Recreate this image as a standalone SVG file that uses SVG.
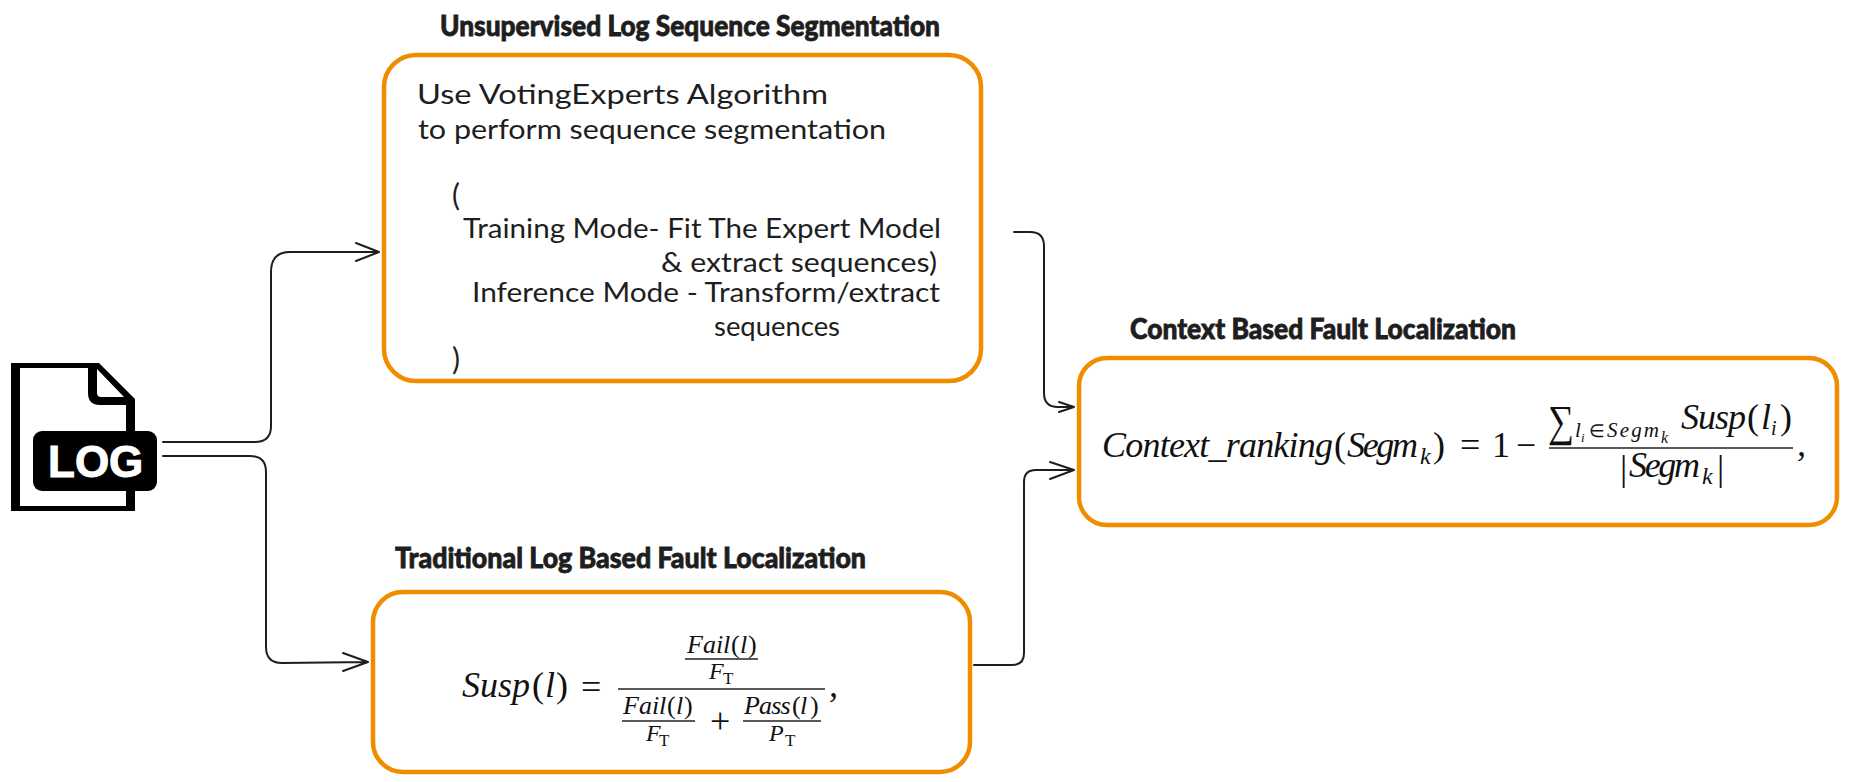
<svg xmlns="http://www.w3.org/2000/svg" width="1866" height="782" viewBox="0 0 1866 782">
<style>
.box{fill:#fff;stroke:#f08c00;stroke-width:4.5}
.title{font-family:"Lato","Roboto",sans-serif;font-weight:900;font-size:29px;fill:#1e1e1e;stroke:#1e1e1e;stroke-width:.8}
.body{font-family:"Lato","Noto Sans",sans-serif;font-size:26px;fill:#1e1e1e}
.paren{font-family:"Lato","Noto Sans",sans-serif;font-size:30px;fill:#1e1e1e}
.math{font-family:"Liberation Serif",serif;font-style:italic;fill:#111}
.rm{font-family:"Liberation Serif",serif;fill:#111}
.up{font-style:normal;font-weight:300}
.conn{fill:none;stroke:#1e1e1e;stroke-width:2;stroke-linecap:round;stroke-linejoin:round}
.rule{stroke:#222;stroke-width:1.3}
.f{font-size:26px}.s{font-size:24px}.t{font-size:17px}.l{font-size:36px}
</style>
<rect width="1866" height="782" fill="#fff"/>
<g id="connectors">
<path class="conn" d="M163 442H255Q271 442 271 426V272Q271 252 290 252H379M356 243L379 252L356 261"/>
<path class="conn" d="M163 456H250Q266 456 266 472V647Q266 663 282 663L368 662M343 653L368 662L343 671"/>
<path class="conn" d="M1014 232H1030Q1044 232 1044 246V393Q1044 407 1058 407H1074M1059 402L1074 407L1059 412"/>
<path class="conn" d="M974 665H1012Q1024 665 1024 653V482Q1024 470 1036 470H1074M1050 462L1074 470L1050 479"/>
</g>
<g id="log-icon">
<path d="M11 363H99L135 399V511H11ZM20 368V506H126V405H100Q88 405 88 393V368ZM97 369V393Q97 397 101 397H124Z" fill="#000" fill-rule="evenodd"/>
<rect x="33" y="431" width="124" height="60" rx="9" fill="#000"/>
<text x="48" y="477" font-family="Liberation Sans,sans-serif" font-weight="700" font-size="44" fill="#fff" stroke="#fff" stroke-width="1">LOG</text>
</g>
<g id="segmentation">
<text class="title" x="440" y="36" textLength="500" lengthAdjust="spacingAndGlyphs">Unsupervised Log Sequence Segmentation</text>
<rect class="box" x="384" y="55" width="597" height="326" rx="32"/>
<text class="body" x="417" y="104" textLength="411" lengthAdjust="spacingAndGlyphs">Use VotingExperts Algorithm</text>
<text class="body" x="418" y="139" textLength="468" lengthAdjust="spacingAndGlyphs">to perform sequence segmentation</text>
<text class="paren" x="452" y="206">(</text>
<text class="body" x="463" y="238" textLength="478" lengthAdjust="spacingAndGlyphs">Training Mode- Fit The Expert Model</text>
<text class="body" x="661" y="272" textLength="276" lengthAdjust="spacingAndGlyphs">&amp; extract sequences)</text>
<text class="body" x="472" y="302" textLength="468" lengthAdjust="spacingAndGlyphs">Inference Mode - Transform/extract</text>
<text class="body" x="714" y="336" textLength="126" lengthAdjust="spacingAndGlyphs">sequences</text>
<text class="paren" x="452" y="370">)</text>
</g>
<g id="traditional">
<text class="title" x="395" y="568" textLength="471" lengthAdjust="spacingAndGlyphs">Traditional Log Based Fault Localization</text>
<rect class="box" x="373" y="592" width="597" height="180" rx="30"/>
<text class="math l" y="697"><tspan x="462">Susp</tspan><tspan class="up" x="532">(</tspan><tspan x="545">l</tspan><tspan class="up" x="556">)</tspan></text>
<text class="rm l" x="581" y="699">=</text>
<text class="math f" y="653"><tspan x="687">Fail</tspan><tspan class="up" x="731">(</tspan><tspan x="740">l</tspan><tspan class="up" x="748">)</tspan></text>
<line class="rule" x1="685" y1="659" x2="758" y2="659"/>
<text class="math s" x="709" y="679">F</text><text class="rm t" x="723" y="684">T</text>
<line class="rule" x1="618" y1="689" x2="825" y2="689"/>
<text class="math f" y="714"><tspan x="623">Fail</tspan><tspan class="up" x="667">(</tspan><tspan x="676">l</tspan><tspan class="up" x="684">)</tspan></text>
<line class="rule" x1="622" y1="721" x2="695" y2="721"/>
<text class="math s" x="646" y="741">F</text><text class="rm t" x="659" y="746">T</text>
<text class="rm l" x="710" y="733">+</text>
<text class="math f" y="714"><tspan x="744" letter-spacing="-.8">Pass</tspan><tspan class="up" x="792">(</tspan><tspan x="800">l</tspan><tspan class="up" x="810">)</tspan></text>
<line class="rule" x1="743" y1="721" x2="821" y2="721"/>
<text class="math s" x="769" y="741">P</text><text class="rm t" x="785" y="746">T</text>
<text class="math l" x="829" y="697">,</text>
</g>
<g id="context">
<text class="title" x="1130" y="339" textLength="386" lengthAdjust="spacingAndGlyphs">Context Based Fault Localization</text>
<rect class="box" x="1079" y="358" width="758" height="167" rx="28"/>
<text class="math l" x="1102" y="457" textLength="231">Context_ranking</text>
<text class="rm l" x="1334" y="457">(</text>
<text class="math l" x="1347" y="457" textLength="71">Segm</text>
<text class="math s" x="1420" y="464">k</text>
<text class="rm l" x="1433" y="457">)</text>
<text class="rm l" x="1460" y="457">=</text>
<text class="rm l" x="1492" y="457">1</text>
<text class="rm l" x="1516" y="457" textLength="20" lengthAdjust="spacingAndGlyphs">−</text>
<text class="rm" x="1548" y="436" font-size="44" textLength="26" lengthAdjust="spacingAndGlyphs">∑</text>
<text class="math" x="1575" y="437" font-size="21">l</text>
<text class="math" x="1581" y="442" font-size="13">i</text>
<text class="rm" x="1589" y="437" font-size="18">∈</text>
<text class="math" x="1607" y="437" font-size="21" textLength="52">Segm</text>
<text class="math" x="1661" y="443" font-size="16">k</text>
<text class="math l" x="1681" y="429" textLength="65">Susp</text>
<text class="rm l" x="1747" y="429">(</text>
<text class="math l" x="1761" y="429">l</text>
<text class="math" x="1771" y="435" font-size="20">i</text>
<text class="rm l" x="1780" y="429">)</text>
<line class="rule" x1="1549" y1="448" x2="1793" y2="448"/>
<text class="rm" x="1620" y="480" font-size="36">|</text>
<text class="math l" x="1629" y="477" textLength="71">Segm</text>
<text class="math s" x="1702" y="484">k</text>
<text class="rm" x="1717" y="480" font-size="36">|</text>
<text class="math l" x="1797" y="456">,</text>
</g>
</svg>
